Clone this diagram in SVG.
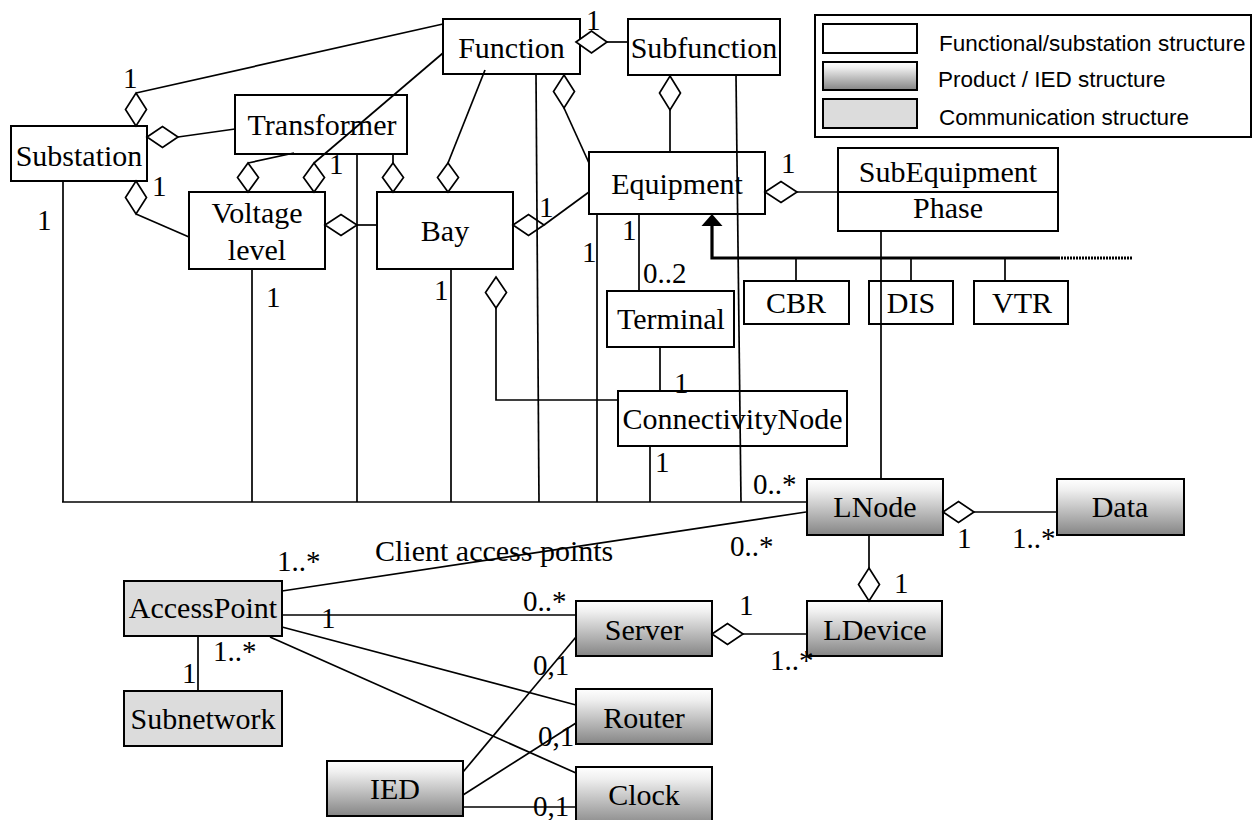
<svg xmlns="http://www.w3.org/2000/svg" width="1252" height="820" viewBox="0 0 1252 820">
<defs>
<linearGradient id="ied" x1="0" y1="0" x2="0" y2="1">
<stop offset="0" stop-color="#ffffff"/>
<stop offset="0.2" stop-color="#efefef"/>
<stop offset="1" stop-color="#858585"/>
</linearGradient>
<style>
.box{fill:#fff;stroke:#000;stroke-width:2}
.prod{fill:url(#ied);stroke:#000;stroke-width:2}
.comm{fill:#dcdcdc;stroke:#000;stroke-width:2}
.t{font-family:"Liberation Serif","Times New Roman",serif;font-size:30px;fill:#000;text-anchor:middle}
.lb{font-family:"Liberation Serif","Times New Roman",serif;font-size:29px;fill:#000}
.lg{font-family:"Liberation Sans",Arial,sans-serif;font-size:22.5px;fill:#000}
.ln{fill:none;stroke:#000;stroke-width:1.7}
.dm{fill:#fff;stroke:#000;stroke-width:1.7}
.gen{fill:none;stroke:#000;stroke-width:3.2}
</style>
</defs>
<rect width="1252" height="820" fill="#fff"/>

<g id="legend">
<rect x="815" y="15" width="436" height="122" fill="#fff" stroke="#000" stroke-width="2"/>
<rect class="box" x="823" y="24" width="94" height="29"/>
<rect class="prod" x="823" y="62" width="94" height="28"/>
<rect class="comm" x="823" y="99" width="94" height="29"/>
<text class="lg" x="939" y="51">Functional/substation structure</text>
<text class="lg" x="938" y="87">Product / IED structure</text>
<text class="lg" x="939" y="125">Communication structure</text>
</g>

<g id="function"><rect class="box" x="443" y="19" width="137" height="55"/><text class="t" x="511.5" y="58">Function</text></g>
<g id="subfunction"><rect class="box" x="628" y="19" width="152" height="56"/><text class="t" x="704" y="58">Subfunction</text></g>
<g id="substation"><rect class="box" x="11" y="126" width="136" height="55"/><text class="t" x="79" y="166">Substation</text></g>
<g id="transformer"><rect class="box" x="235" y="95" width="172" height="59"/><text class="t" x="322" y="135">Transformer</text></g>
<g id="voltage-level"><rect class="box" x="189" y="192" width="136" height="77"/><text class="t" x="257" y="223">Voltage</text><text class="t" x="257" y="260">level</text></g>
<g id="bay"><rect class="box" x="377" y="192" width="136" height="77"/><text class="t" x="445" y="241">Bay</text></g>
<g id="equipment"><rect class="box" x="589" y="152" width="176" height="62"/><text class="t" x="677" y="194">Equipment</text></g>
<g id="subequipment"><rect class="box" x="838" y="148" width="220" height="83"/><line x1="838" y1="192" x2="1058" y2="192" stroke="#000" stroke-width="2"/><text class="t" x="948" y="182">SubEquipment</text><text class="t" x="948" y="218">Phase</text></g>
<g id="terminal"><rect class="box" x="607" y="291" width="127" height="56"/><text class="t" x="671" y="329">Terminal</text></g>
<g id="cbr"><rect class="box" x="744" y="281" width="105" height="43"/><text class="t" x="796" y="313">CBR</text></g>
<g id="dis"><rect class="box" x="869" y="281" width="84" height="43"/><text class="t" x="911" y="313">DIS</text></g>
<g id="vtr"><rect class="box" x="974" y="281" width="94" height="43"/><text class="t" x="1022" y="313">VTR</text></g>
<g id="connectivitynode"><rect class="box" x="618" y="391" width="229" height="55"/><text class="t" x="732.5" y="429">ConnectivityNode</text></g>
<g id="lnode"><rect class="prod" x="807" y="479" width="136" height="56"/><text class="t" x="875" y="517">LNode</text></g>
<g id="data"><rect class="prod" x="1057" y="479" width="127" height="56"/><text class="t" x="1120" y="517">Data</text></g>
<g id="ldevice"><rect class="prod" x="807" y="601" width="135" height="55"/><text class="t" x="875" y="640">LDevice</text></g>
<g id="server"><rect class="prod" x="576" y="601" width="136" height="55"/><text class="t" x="644" y="640">Server</text></g>
<g id="router"><rect class="prod" x="576" y="689" width="136" height="55"/><text class="t" x="644" y="728">Router</text></g>
<g id="clock"><rect class="prod" x="576" y="767" width="136" height="60"/><text class="t" x="644" y="805">Clock</text></g>
<g id="accesspoint"><rect class="comm" x="124" y="581" width="158" height="55"/><text class="t" x="203" y="618">AccessPoint</text></g>
<g id="subnetwork"><rect class="comm" x="124" y="691" width="158" height="55"/><text class="t" x="203" y="729">Subnetwork</text></g>
<g id="ied"><rect class="prod" x="327" y="761" width="136" height="55"/><text class="t" x="395" y="799">IED</text></g>

<g id="connectors">
<line class="ln" x1="443" y1="24" x2="136" y2="93"/>
<polygon class="dm" points="136,93 146.5,109.5 136,126 125.5,109.5"/>
<line class="ln" x1="235" y1="129" x2="178" y2="137"/>
<polygon class="dm" points="147,137 162.5,126.5 178,137 162.5,147.5"/>
<polygon class="dm" points="136,181 146.5,197.5 136,214 125.5,197.5"/>
<line class="ln" x1="136" y1="214" x2="189" y2="237"/>
<line class="ln" x1="294" y1="153" x2="248" y2="163"/>
<polygon class="dm" points="248,163 258.5,177.5 248,192 237.5,177.5"/>
<line class="ln" x1="443" y1="53" x2="314" y2="163"/>
<polygon class="dm" points="314,163 324.5,177.5 314,192 303.5,177.5"/>
<line class="ln" x1="485" y1="70" x2="448" y2="163"/>
<polygon class="dm" points="448,163 458.5,177.5 448,192 437.5,177.5"/>
<line class="ln" x1="393" y1="154" x2="393" y2="163"/>
<polygon class="dm" points="393,163 403.5,177.5 393,192 382.5,177.5"/>
<polygon class="dm" points="325,225 341,214.5 357,225 341,235.5"/>
<line class="ln" x1="357" y1="225" x2="377" y2="225"/>
<polygon class="dm" points="513,225 528.5,214.5 544,225 528.5,235.5"/>
<line class="ln" x1="544" y1="225" x2="589" y2="192"/>
<polygon class="dm" points="564,75 574.5,91.5 564,108 553.5,91.5"/>
<line class="ln" x1="564" y1="108" x2="589" y2="163"/>
<polygon class="dm" points="576,42 591.5,31 607,42 591.5,53"/>
<line class="ln" x1="607" y1="42" x2="628" y2="42"/>
<polygon class="dm" points="670,76 680.5,93 670,110 659.5,93"/>
<line class="ln" x1="670" y1="110" x2="670" y2="152"/>
<polygon class="dm" points="765,192 781,181.5 797,192 781,202.5"/>
<line class="ln" x1="797" y1="192" x2="838" y2="192"/>

<polyline class="gen" points="712,224 712,258 1058,258"/>
<polygon points="712,214 722.5,226 701.5,226" fill="#000"/>
<line x1="1058" y1="258" x2="1132" y2="258" stroke="#000" stroke-width="3" stroke-dasharray="2 1"/>
<line class="ln" x1="796" y1="258" x2="796" y2="281"/>
<line class="ln" x1="911" y1="258" x2="911" y2="281"/>
<line class="ln" x1="1005" y1="258" x2="1005" y2="281"/>

<line class="ln" x1="63" y1="181" x2="63" y2="502"/>
<line class="ln" x1="252" y1="269" x2="252" y2="502"/>
<line class="ln" x1="357" y1="154" x2="357" y2="502"/>
<line class="ln" x1="451" y1="269" x2="451" y2="502"/>
<line class="ln" x1="536" y1="74" x2="539" y2="502"/>
<line class="ln" x1="597" y1="214" x2="597" y2="502"/>
<line class="ln" x1="650" y1="446" x2="650" y2="502"/>
<line class="ln" x1="736" y1="75" x2="741" y2="502"/>
<line class="ln" x1="62" y1="502" x2="807" y2="502"/>
<line class="ln" x1="881" y1="231" x2="881" y2="479"/>
<line class="ln" x1="639" y1="214" x2="639" y2="291"/>
<line class="ln" x1="660" y1="347" x2="660" y2="391"/>
<polygon class="dm" points="496,277 506.5,292.5 496,308 485.5,292.5"/>
<polyline class="ln" points="496,308 496,400 619,400"/>

<polygon class="dm" points="943,512 958.5,501.5 974,512 958.5,522.5"/>
<line class="ln" x1="974" y1="512" x2="1057" y2="512"/>
<line class="ln" x1="869" y1="535" x2="869" y2="568"/>
<polygon class="dm" points="869,568 879.5,584.5 869,601 858.5,584.5"/>
<polygon class="dm" points="712,634 727.5,623.5 743,634 727.5,644.5"/>
<line class="ln" x1="743" y1="634" x2="807" y2="634"/>
<line class="ln" x1="806" y1="512" x2="282" y2="591"/>
<line class="ln" x1="282" y1="615" x2="576" y2="615"/>
<line class="ln" x1="282" y1="627" x2="576" y2="705"/>
<line class="ln" x1="270" y1="637" x2="576" y2="773"/>
<line class="ln" x1="198" y1="636" x2="198" y2="691"/>
<line class="ln" x1="463" y1="772" x2="576" y2="637"/>
<line class="ln" x1="463" y1="795" x2="576" y2="723"/>
<line class="ln" x1="463" y1="807" x2="576" y2="807"/>

<text class="lb" x="123" y="88">1</text>
<text class="lb" x="152" y="196">1</text>
<text class="lb" x="329" y="174">1</text>
<text class="lb" x="37" y="230">1</text>
<text class="lb" x="266" y="307">1</text>
<text class="lb" x="434" y="300">1</text>
<text class="lb" x="539" y="217">1</text>
<text class="lb" x="586" y="30">1</text>
<text class="lb" x="582" y="262">1</text>
<text class="lb" x="622" y="240">1</text>
<text class="lb" x="643" y="283">0..2</text>
<text class="lb" x="674" y="393">1</text>
<text class="lb" x="655" y="472">1</text>
<text class="lb" x="753" y="494">0..*</text>
<text class="lb" x="781" y="173">1</text>
<text class="lb" x="957" y="548">1</text>
<text class="lb" x="1012" y="548">1..*</text>
<text class="lb" x="894" y="593">1</text>
<text class="lb" x="739" y="615">1</text>
<text class="lb" x="770" y="670">1..*</text>
<text class="lb" x="277" y="571">1..*</text>
<text class="lb" x="375" y="561" style="font-size:30px">Client access points</text>
<text class="lb" x="730" y="556">0..*</text>
<text class="lb" x="321" y="628">1</text>
<text class="lb" x="523" y="611">0..*</text>
<text class="lb" x="182" y="683">1</text>
<text class="lb" x="213" y="661">1..*</text>
<text class="lb" x="533" y="675">0,1</text>
<text class="lb" x="538" y="746">0,1</text>
<text class="lb" x="533" y="816">0,1</text>
</g>
</svg>
